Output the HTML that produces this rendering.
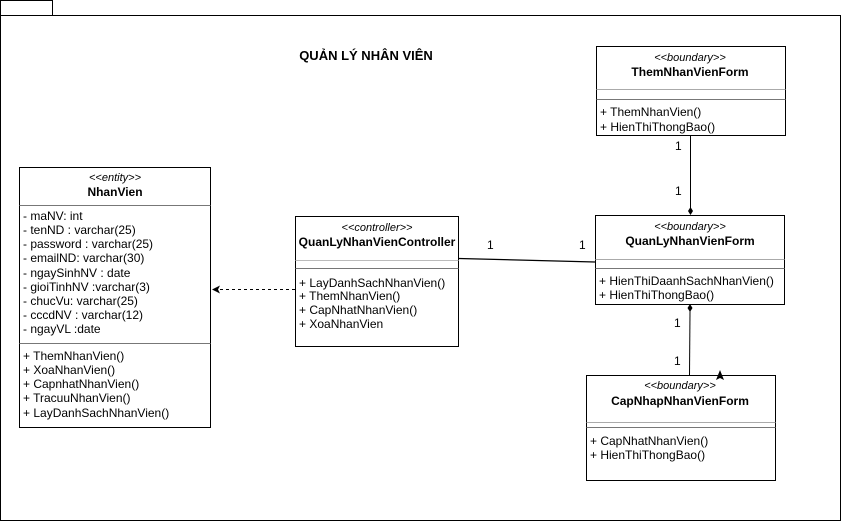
<!DOCTYPE html>
<html><head><meta charset="utf-8"><style>
html,body{margin:0;padding:0;background:#fff;width:842px;height:522px;overflow:hidden}
svg{display:block}
text{font-family:"Liberation Sans",Arial,sans-serif;font-size:12px;fill:#000}
.st{font-style:italic;font-size:11px}
.b{font-weight:bold}
.t{font-size:13px}
</style></head><body>
<svg width="842" height="522" viewBox="0 0 842 522" xmlns="http://www.w3.org/2000/svg">
<g fill="none" stroke="#000">
<rect x="0.5" y="0.5" width="52" height="15"/>
<rect x="0.5" y="15.5" width="840" height="505"/>
</g>
<text x="366" y="60" text-anchor="middle" class="b t">QUẢN LÝ NHÂN VIÊN</text>

<!-- NhanVien -->
<g fill="#fff" stroke="#000"><rect x="19.5" y="167.5" width="191" height="260"/></g>
<line x1="19.5" y1="205.5" x2="210.5" y2="205.5" stroke="#777"/>
<line x1="19.5" y1="343.5" x2="210.5" y2="343.5" stroke="#777"/>
<text x="115" y="181" text-anchor="middle" class="st">&lt;&lt;entity&gt;&gt;</text>
<text x="115" y="196" text-anchor="middle" class="b">NhanVien</text>
<g>
<text x="23" y="220">- maNV: int</text>
<text x="23" y="234">- tenND : varchar(25)</text>
<text x="23" y="248">- password : varchar(25)</text>
<text x="23" y="262">- emailND: varchar(30)</text>
<text x="23" y="277">- ngaySinhNV : date</text>
<text x="23" y="291">- gioiTinhNV :varchar(3)</text>
<text x="23" y="305">- chucVu: varchar(25)</text>
<text x="23" y="319">- cccdNV : varchar(12)</text>
<text x="23" y="333">- ngayVL :date</text>
<text x="23" y="360">+ ThemNhanVien()</text>
<text x="23" y="374">+ XoaNhanVien()</text>
<text x="23" y="388">+ CapnhatNhanVien()</text>
<text x="23" y="402">+ TracuuNhanVien()</text>
<text x="23" y="417">+ LayDanhSachNhanVien()</text>
</g>

<!-- Controller -->
<rect x="295.5" y="216.5" width="163" height="130" fill="#fff" stroke="#000"/>
<line x1="295.5" y1="260.5" x2="458.5" y2="260.5" stroke="#bbb"/>
<line x1="295.5" y1="268.5" x2="458.5" y2="268.5" stroke="#777"/>
<text x="377" y="231" text-anchor="middle" class="st">&lt;&lt;controller&gt;&gt;</text>
<text x="377" y="246" text-anchor="middle" class="b">QuanLyNhanVienController</text>
<text x="299" y="287">+ LayDanhSachNhanVien()</text>
<text x="299" y="300">+ ThemNhanVien()</text>
<text x="299" y="314">+ CapNhatNhanVien()</text>
<text x="299" y="328">+ XoaNhanVien</text>

<!-- ThemNhanVienForm -->
<rect x="596.5" y="46.5" width="189" height="89" fill="#fff" stroke="#000"/>
<line x1="596.5" y1="89.5" x2="785.5" y2="89.5" stroke="#aaa"/>
<line x1="596.5" y1="99.5" x2="785.5" y2="99.5" stroke="#777"/>
<text x="690" y="61" text-anchor="middle" class="st">&lt;&lt;boundary&gt;&gt;</text>
<text x="690" y="76" text-anchor="middle" class="b">ThemNhanVienForm</text>
<text x="600" y="116">+ ThemNhanVien()</text>
<text x="600" y="131">+ HienThiThongBao()</text>

<!-- QuanLyNhanVienForm -->
<rect x="595.5" y="215.5" width="189" height="89" fill="#fff" stroke="#000"/>
<line x1="595.5" y1="259.5" x2="784.5" y2="259.5" stroke="#aaa"/>
<line x1="595.5" y1="268.5" x2="784.5" y2="268.5" stroke="#777"/>
<text x="690" y="230" text-anchor="middle" class="st">&lt;&lt;boundary&gt;&gt;</text>
<text x="690" y="245" text-anchor="middle" class="b">QuanLyNhanVienForm</text>
<text x="599" y="285">+ HienThiDaanhSachNhanVien()</text>
<text x="599" y="299">+ HienThiThongBao()</text>

<!-- CapNhapNhanVienForm -->
<rect x="586.5" y="375.5" width="189" height="105" fill="#fff" stroke="#000"/>
<line x1="586.5" y1="422.5" x2="775.5" y2="422.5" stroke="#aaa"/>
<line x1="586.5" y1="427.5" x2="775.5" y2="427.5" stroke="#777"/>
<text x="680" y="389" text-anchor="middle" class="st">&lt;&lt;boundary&gt;&gt;</text>
<text x="680" y="405" text-anchor="middle" class="b">CapNhapNhanVienForm</text>
<text x="590" y="445">+ CapNhatNhanVien()</text>
<text x="590" y="459">+ HienThiThongBao()</text>

<!-- connectors -->
<line x1="690.5" y1="135" x2="690.5" y2="209" stroke="#000"/>
<polygon points="690.5,207 693,211 690.5,215 688,211" fill="#000"/>
<line x1="690" y1="311" x2="689.5" y2="375" stroke="#000"/>
<polygon points="690,304 692.5,308 690,312 687.5,308" fill="#000"/>
<polygon points="720,370 716,380 720,378 724,380" fill="#000"/>
<line x1="459" y1="258.5" x2="595" y2="262" stroke="#000" stroke-width="1.3"/>
<line x1="295" y1="289.5" x2="218" y2="289.5" stroke="#000" stroke-dasharray="3,3"/>
<polygon points="212,289.5 220,285.5 218,289.5 220,293.5" fill="#000"/>

<text x="675" y="150">1</text>
<text x="675" y="195">1</text>
<text x="487" y="249">1</text>
<text x="579" y="249">1</text>
<text x="674" y="327">1</text>
<text x="674" y="365">1</text>
</svg>
</body></html>
